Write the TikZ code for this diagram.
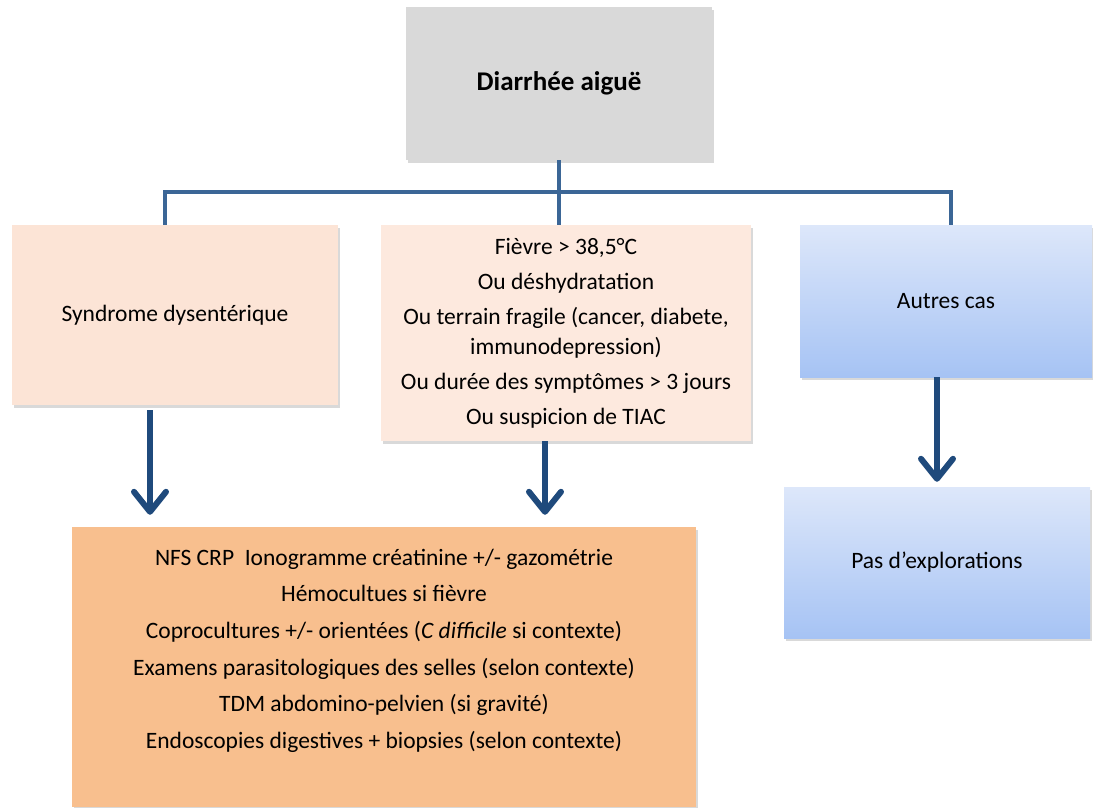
\documentclass[tikz,border=0pt]{standalone}
\usepackage{fontspec}
\setmainfont{Carlito}
\usetikzlibrary{arrows.meta,shadows,calc}

\definecolor{topgray}{HTML}{D9D9D9}
\definecolor{peachlight}{HTML}{FCE4D6}
\definecolor{peachdark}{HTML}{F8BF8E}
\definecolor{bluetop}{HTML}{DDE7FA}
\definecolor{bluebottom}{HTML}{A6C3F4}
\definecolor{linkblue}{HTML}{3B6696}
\definecolor{arrowblue}{HTML}{1F4A7C}

\tikzset{
	box/.style={rectangle, inner sep=0pt, align=center, text=black,
		font=\fontsize{23.5}{30}\selectfont,
		drop shadow={shadow xshift=1.5pt, shadow yshift=-3pt, opacity=0.3}},
	peachbox/.style={box, fill=peachlight},
	bluebox/.style={box, top color=bluetop, bottom color=bluebottom},
	link/.style={draw=linkblue, line width=4pt},
	flow/.style={draw=arrowblue, line width=6pt,
		-{Straight Barb[length=20pt, width=32pt, round]}}
}

\begin{document}
\begin{tikzpicture}[x=1pt, y=-1pt]
	% page size (pixels as points, y downwards)
	\useasboundingbox (0,0) rectangle (1093,807);

	% top of the tree
	\node[box, fill=topgray, minimum width=306pt, minimum height=153pt,
		font=\fontsize{27}{32}\selectfont\bfseries] (acute) at (559,83.5) {Diarrhée aiguë};

	% three situations
	\node[peachbox, minimum width=326pt, minimum height=180pt] (dysent) at (175,315)
		{Syndrome dysentérique};
	\node[peachbox, fill=peachlight!80!white, minimum width=370pt, minimum height=216pt] (fever) at (566,333)
		{Fièvre > 38,5°C\\[5pt]
		Ou déshydratation\\[5pt]
		Ou terrain fragile (cancer, diabete,\\
		immunodepression)\\[5pt]
		Ou durée des symptômes > 3 jours\\[5pt]
		Ou suspicion de TIAC};
	\node[bluebox, minimum width=292pt, minimum height=152pt] (other) at (946,301)
		{Autres cas};

	% what to do
	\node[box, fill=peachdark, minimum width=624pt, minimum height=280pt,
		font=\fontsize{23.5}{36.6}\selectfont] (exams) at (384,667)
		{NFS CRP~ Ionogramme créatinine +/- gazométrie\\
		Hémocultues si fièvre\\
		Coprocultures +/- orientées (\textit{C difficile} si contexte)\\
		Examens parasitologiques des selles (selon contexte)\\
		TDM abdomino-pelvien (si gravité)\\
		Endoscopies digestives + biopsies (selon contexte)\\
		~};
	\node[bluebox, minimum width=306pt, minimum height=151pt] (noexam) at (937,562.5)
		{Pas d’explorations};

	% branching lines
	\coordinate (split) at ($(acute.south)+(0,32)$);
	\draw[link] (acute.south) -- (acute.south |- fever.north);
	\draw[link] ([xshift=-10pt]dysent.north) |- (split) -| ([xshift=5pt]other.north);

	% arrows down
	\draw[flow, shorten <=5pt, shorten >=12pt] ([xshift=-25pt]dysent.south) -- ([xshift=-234pt]exams.north);
	\draw[flow, shorten >=12pt] ([xshift=-21pt]fever.south) -- ([xshift=161pt]exams.north);
	\draw[flow, shorten >=5pt] ([xshift=-9pt]other.south) -- (noexam.north);
\end{tikzpicture}
\end{document}
